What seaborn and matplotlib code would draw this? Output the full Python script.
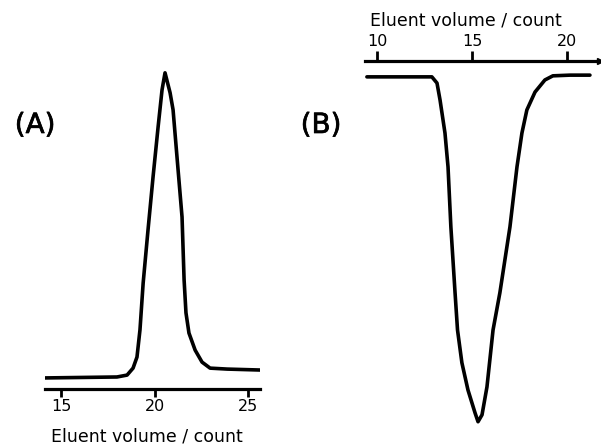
import numpy as np
import pandas as pd
import matplotlib
matplotlib.use("Agg")
import matplotlib.pyplot as plt
import matplotlib.patheffects as pe
import seaborn as sns

# Panel A: GPC trace (positive peak)
vol_a = [14.14, 17.99, 18.53, 18.85, 19.06, 19.22, 19.39, 19.65, 19.92, 20.19,
         20.40, 20.56, 20.83, 20.99, 21.20, 21.47, 21.58, 21.68, 21.84, 22.17,
         22.54, 22.97, 23.88, 25.64]
sig_a = [3.5, 3.8, 4.4, 6.6, 10.1, 18.7, 33.5, 50.3, 67.1, 82.9,
         94.6, 100.0, 93.7, 88.3, 73.4, 54.4, 34.5, 24.1, 17.7, 12.3,
         8.5, 6.6, 6.3, 6.0]

# Panel B: GPC trace (negative peak)
vol_b = [9.47, 12.89, 13.16, 13.32, 13.58, 13.74, 13.89, 14.11, 14.24, 14.47,
         14.79, 15.16, 15.32, 15.53, 15.79, 16.11, 16.47, 17.00, 17.37, 17.63,
         17.89, 18.32, 18.84, 19.26, 20.16, 21.21]
sig_b = [-4.6, -4.6, -6.4, -11.3, -20.9, -30.7, -48.1, -67.2, -78.0, -87.5,
         -95.4, -102.0, -104.6, -102.6, -94.5, -78.0, -67.2, -48.1, -30.7, -20.9,
         -14.2, -9.0, -5.5, -4.3, -4.1, -4.1]

ticks_a = [15, 20, 25]
ticks_b = [10, 15, 20]
xlabel = "Eluent volume / count"

sns.set_style("white")
plt.rcParams["font.family"] = ["DejaVu Sans"]
plt.rcParams["text.color"] = "black"
plt.rcParams["xtick.color"] = "black"
plt.rcParams["axes.labelcolor"] = "black"

fig = plt.figure(figsize=(6.01, 4.45), dpi=100)
W, H = 601.0, 445.0

# ---- Panel A ----
axA = fig.add_axes([45 / W, (H - 389) / H, 215 / W, 332 / H])
dfA = pd.DataFrame({"vol": vol_a, "sig": sig_a})
sns.lineplot(data=dfA, x="vol", y="sig", ax=axA, color="black", lw=2.6,
             sort=False, estimator=None)
axA.set_xlim(14.14, 25.64)
axA.set_ylim(0, 105)
for s in ["top", "left", "right"]:
    axA.spines[s].set_visible(False)
axA.spines["bottom"].set_linewidth(2.3)
axA.spines["bottom"].set_color("black")
axA.set_yticks([])
axA.set_ylabel("")
axA.set_xticks(ticks_a)
axA.set_xticklabels([str(t) for t in ticks_a])
axA.tick_params(axis="x", direction="out", length=6, width=2, color="black",
                labelsize=11.5, labelcolor="black", pad=1.5, bottom=True)
axA.set_xlabel(xlabel, fontsize=12.5, color="black")
axA.xaxis.set_label_coords(0.474, -0.115)

# ---- Panel B ----
axB = fig.add_axes([365 / W, 5 / H, 235 / W, (440 - 61) / H])
dfB = pd.DataFrame({"vol": vol_b, "sig": sig_b})
sns.lineplot(data=dfB, x="vol", y="sig", ax=axB, color="black", lw=2.6,
             sort=False, estimator=None)
axB.set_xlim(9.37, 21.74)
axB.set_ylim(-109.9, 0)
for s in ["bottom", "left", "right"]:
    axB.spines[s].set_visible(False)
axB.spines["top"].set_linewidth(2.3)
axB.spines["top"].set_color("black")
axB.set_yticks([])
axB.set_ylabel("")
axB.xaxis.set_ticks_position("top")
axB.xaxis.set_label_position("top")
axB.set_xticks(ticks_b)
axB.set_xticklabels([str(t) for t in ticks_b])
axB.tick_params(axis="x", direction="out", length=7, width=2, color="black",
                labelsize=11.5, labelcolor="black", pad=1.5, top=True, bottom=False)
axB.set_xlabel(xlabel, fontsize=12.5, color="black")
axB.xaxis.set_label_coords(0.43, 1.093)
axB.plot(1, 1, marker=">", color="black", markersize=5, transform=axB.transAxes,
         clip_on=False)

# Panel labels
thick = [pe.withStroke(linewidth=0.5, foreground="black")]
fig.text(35 / W, (H - 125) / H, "(A)", fontsize=20,
         ha="center", va="center", color="black", path_effects=thick)
fig.text(321 / W, (H - 125) / H, "(B)", fontsize=20,
         ha="center", va="center", color="black", path_effects=thick)

fig.savefig("out.png", dpi=100, facecolor="white")
